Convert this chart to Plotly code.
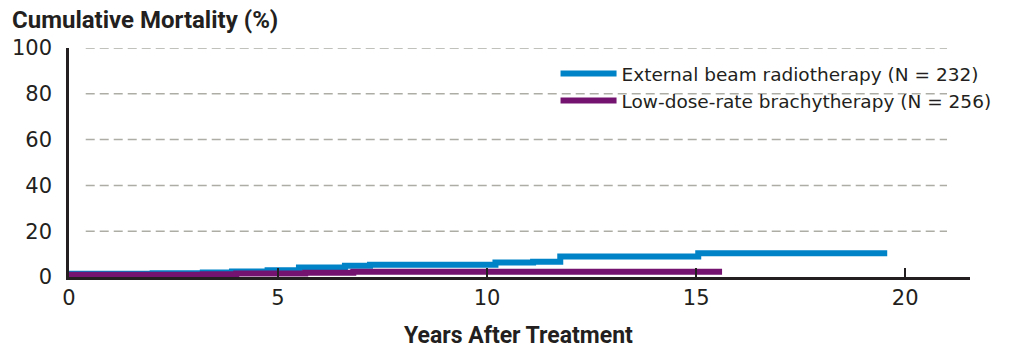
import plotly.graph_objects as go

# Step-function cumulative mortality (%) by years after treatment
ebrt_years = [0, 2.0, 3.2, 3.9, 4.75, 5.5, 6.6, 7.2, 10.2, 11.1, 11.75, 15.05, 19.57]
ebrt_mort = [1.4, 1.6, 2.0, 2.4, 3.0, 4.2, 4.9, 5.4, 6.3, 6.7, 9.0, 10.4, 10.4]

ldr_years = [0, 3.2, 4.0, 5.65, 6.8, 15.62]
ldr_mort = [1.0, 1.2, 1.5, 1.9, 2.3, 2.3]

series_names = [
    "External beam radiotherapy (N = 232)",
    "Low-dose-rate brachytherapy (N = 256)",
]
y_ticks = [0, 20, 40, 60, 80, 100]
x_ticks = [0, 5, 10, 15, 20]

BLUE = "#0083C7"
PURPLE = "#741470"
INK = "#231F20"
GRID = "#ADADA6"

fig = go.Figure()
fig.add_trace(go.Scatter(
    x=ebrt_years, y=ebrt_mort, mode="lines", line_shape="hv",
    line=dict(color=BLUE, width=6), name=series_names[0],
))
fig.add_trace(go.Scatter(
    x=ldr_years, y=ldr_mort, mode="lines", line_shape="hv",
    line=dict(color=PURPLE, width=6), name=series_names[1],
))

# dashed horizontal guides, inset from the axes
for v in y_ticks[1:]:
    fig.add_shape(type="line", xref="x", yref="y", x0=0.4, x1=21.0, y0=v, y1=v,
                  line=dict(color=GRID, width=1.5, dash="9px,5px"), layer="below")

# axis titles
fig.add_annotation(text="<b>Cumulative Mortality (%)</b>", xref="paper", yref="paper",
                   x=-0.066, y=1.122, xanchor="left", yanchor="middle", showarrow=False,
                   font=dict(family="Roboto", size=24, color=INK))
fig.add_annotation(text="<b>Years After Treatment</b>", xref="paper", yref="paper",
                   x=0.499, y=-0.2576, xanchor="center", yanchor="middle", showarrow=False,
                   font=dict(family="Roboto", size=23, color=INK))

fig.update_layout(
    width=1012, height=350,
    margin=dict(l=69, r=42, t=48, b=73, autoexpand=False),
    plot_bgcolor="white", paper_bgcolor="white",
    font=dict(family="DejaVu Sans", size=21, color=INK),
    showlegend=True,
    legend=dict(x=0.54, y=0.97, xanchor="left", yanchor="top",
                bgcolor="rgba(0,0,0,0)", font=dict(family="DejaVu Sans", size=18.5, color=INK),
                itemwidth=56, tracegroupgap=0),
)
fig.update_xaxes(
    range=[0, 21.55], tickvals=x_ticks, showgrid=False, zeroline=False,
    showline=True, linecolor=INK, linewidth=2.5, automargin=False,
    ticks="inside", ticklen=9, tickwidth=2, tickcolor=INK,
)
fig.update_yaxes(
    range=[0, 100], tickvals=y_ticks, showgrid=False, zeroline=False,
    showline=True, linecolor=INK, linewidth=2.5, ticks="", ticklabelstandoff=10,
    automargin=False,
)

fig.write_html("out.html")
